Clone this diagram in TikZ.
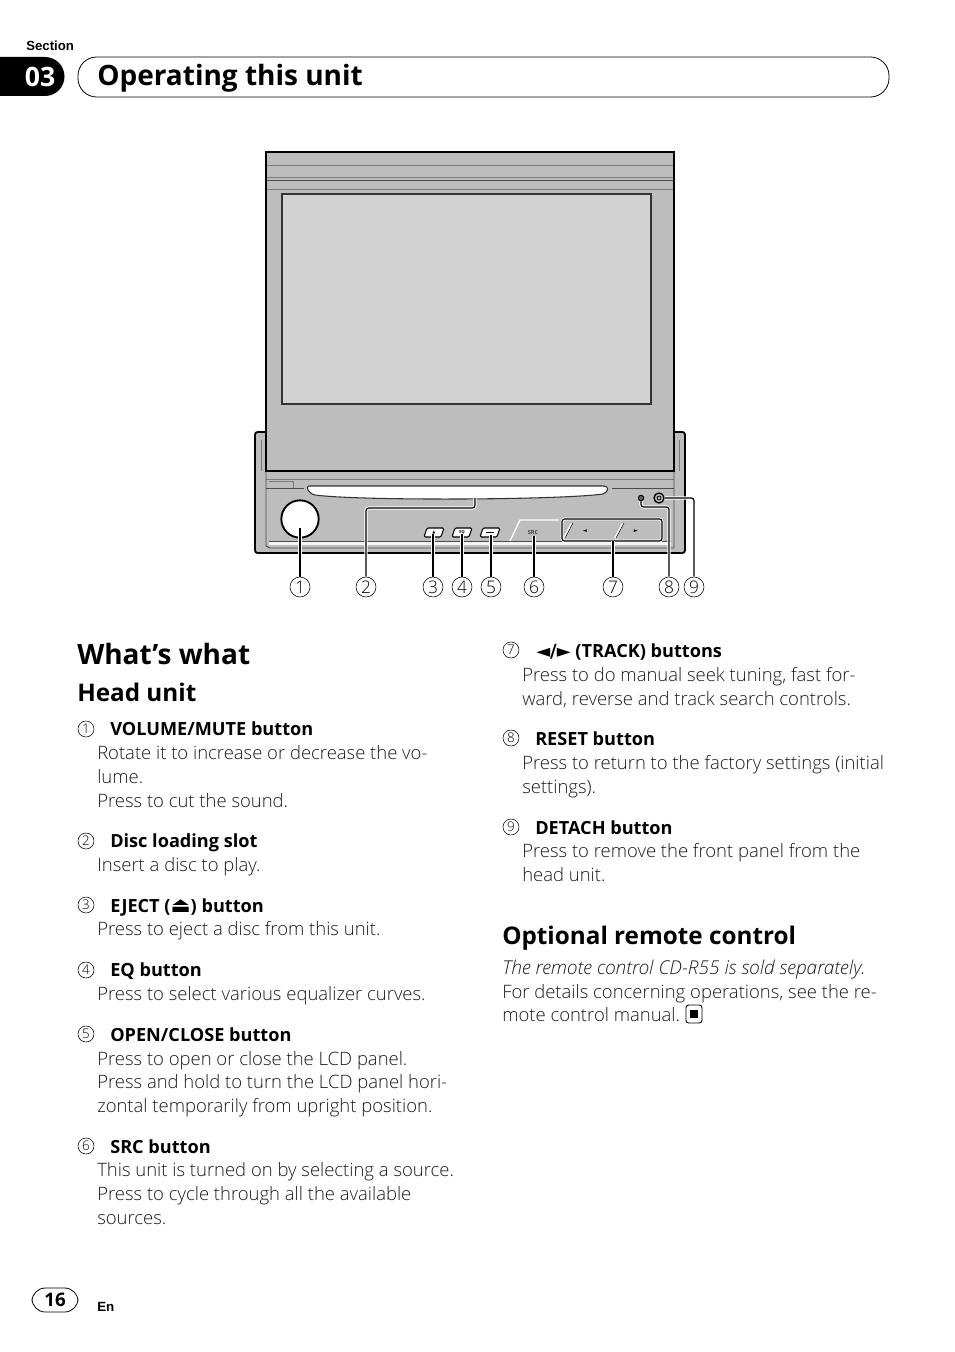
\documentclass[tikz,border=0pt]{standalone}
\usepackage{fontspec}
\setmainfont{Open Sans}
\newfontfamily\lightfont{Open Sans Light}
\newfontfamily\symfont{DejaVu Sans}
\newfontfamily\headfont{Liberation Sans}
\usetikzlibrary{positioning}
\definecolor{panelgray}{HTML}{BDBDBD}
\definecolor{screengray}{HTML}{D3D3D3}
\definecolor{linegray}{HTML}{7A7A7A}
\definecolor{bodyink}{HTML}{1A1A1A}
\tikzset{
  bodyline/.style={anchor=base west,inner sep=0pt,text=bodyink,font=\lightfont\fontsize{13.85pt}{16pt}\selectfont},
  itemhead/.style={anchor=base west,inner sep=0pt,font=\fontsize{13.6pt}{16pt}\selectfont\bfseries},
  subtitle/.style={anchor=base west,inner sep=0pt,font=\fontsize{18.2pt}{20pt}\selectfont\bfseries},
  itemnum/.style={circle,draw,line width=0.4pt,inner sep=0pt,minimum size=12pt,font=\lightfont\fontsize{10pt}{10pt}\selectfont},
  callout/.style={circle,draw,line width=0.4pt,inner sep=0pt,minimum size=15pt,fill=white,font=\lightfont\fontsize{13pt}{14pt}\selectfont},
  leader/.style={line width=0.9pt,rounded corners=2pt,preaction={draw=white,line width=2.4pt}},
  button/.style={draw=black,fill=white,line width=0.8pt,rounded corners=1pt}
}
\begin{document}
\begin{tikzpicture}[x=0.75pt,y=-0.75pt]
\useasboundingbox (0,0) rectangle (954,1352);
% page header
\node[anchor=base west,inner sep=0pt,font=\headfont\fontsize{9.9pt}{11pt}\selectfont\bfseries] (section) at (26,51) {Section};
\fill[black] (0,57) -- (45,57) arc (-90:90:19.5) -- (0,96) -- cycle;
\node[text=white,inner sep=0pt,font=\fontsize{20pt}{22pt}\selectfont\bfseries] (tabnum) at (40,77) {03};
\draw[line width=0.6pt,rounded corners=14pt] (78,57) rectangle (889,97);
\node[anchor=base west,inner sep=0pt,font=\fontsize{21pt}{24pt}\selectfont\bfseries] (pagetitle) at (97,86) {Operating this unit};
% chassis
\draw[line width=1.4pt,fill=panelgray,rounded corners=2pt] (255,432) rectangle (685,553);
\draw[linegray,line width=0.4pt] (261,440) -- (261,471) (679,440) -- (679,471);
\draw[linegray,line width=0.5pt] (266,479) -- (674,479);
\draw[linegray,line width=0.4pt] (269,481) -- (293,481) -- (293,488);
\draw[black!70,line width=0.7pt] (266,471) -- (266,546) -- (270,548) -- (674,548) -- (674,471);
\draw[black!70,line width=0.7pt] (266,488) -- (304,488);
\draw[black!70,line width=0.7pt] (612,488) -- (674,488);
\fill[white!85!panelgray] (269,541) rectangle (671,545);
\draw[black!70,line width=0.5pt] (269,541) -- (671,541);
% disc slot
\draw[fill=white,line width=0.8pt,draw=black!80] (309,486) -- (604,486) .. controls (609,486) and (609,492) .. (603,494) .. controls (560,500) and (360,501) .. (315,495) .. controls (307,493) and (306,486) .. (309,486) -- cycle;
\coordinate (slotpt) at (475,498);
% volume knob
\node[circle,draw,fill=white,line width=1.4pt,minimum size=28pt,inner sep=0pt] (knob) at (300,519) {};
\coordinate (knobpt) at (300,528);
% small buttons
\draw[button] (427,528) -- (444,528) -- (441,537) -- (424,537) -- cycle;
\draw[button] (455,528) -- (472,528) -- (469,537) -- (452,537) -- cycle;
\draw[button] (483,528) -- (500,528) -- (497,537) -- (480,537) -- cycle;
\node[inner sep=0pt,font=\symfont\fontsize{3pt}{3pt}\selectfont] (ejectbtn) at (434,532) {▲};
\node[inner sep=0pt,font=\fontsize{3pt}{3pt}\selectfont\bfseries] (eqbtn) at (462,532) {EQ};
\draw[line width=0.5pt] (486,532.5) -- (494,532.5);
\coordinate (ejectpt) at (433,534);
\coordinate (eqpt) at (462,534);
\coordinate (openpt) at (491,535);
% source and track keys
\draw[white,line width=1pt] (510,541) -- (520,520) -- (559,520);
\node[inner sep=0pt,text=black!75,font=\fontsize{4.2pt}{5pt}\selectfont\bfseries] (srctext) at (533,532) {SRC};
\coordinate (srcpt) at (534,536);
\draw[line width=0.9pt,preaction={draw=white,line width=2.2pt},rounded corners=2pt] (562,519) rectangle (662,541);
\draw[white,line width=1.4pt] (564,538) -- (572,523) (615,538) -- (623,523);
\draw[line width=0.4pt] (565,538) -- (573,523) (616,538) -- (624,523);
\node[inner sep=0pt,font=\symfont\fontsize{4pt}{4pt}\selectfont] (prevkey) at (585,531) {◄};
\node[inner sep=0pt,font=\symfont\fontsize{4pt}{4pt}\selectfont] (nextkey) at (636,531) {►};
\coordinate (trackpt) at (613,541);
% reset and detach
\node[circle,draw,fill=black!60,line width=0.8pt,minimum size=4pt,inner sep=0pt] (reset) at (641,498) {};
\node[circle,draw,fill=panelgray,line width=1pt,minimum size=7.5pt,inner sep=0pt] (detach) at (659,498) {};
\node[circle,draw,line width=0.6pt,minimum size=3pt,inner sep=0pt] (detachin) at (659,498) {};
% fold-up panel
\draw[fill=panelgray,line width=1.4pt] (266,152) rectangle (674,471);
\draw[linegray,line width=0.7pt] (267,165) -- (673,165) (267,177) -- (673,177) (267,189) -- (673,189);
\draw[black!70,line width=0.7pt] (267,180) -- (673,180);
\draw[fill=screengray,line width=0.9pt,draw=black!80] (282,194) rectangle (651,404);
% callouts
\foreach \n/\x in {1/300,2/366,3/433,4/462,5/491,6/534,7/613,8/669,9/694}
  \node[callout] (c\n) at (\x,587) {\n};
\coordinate (slotbend) at (366,508);
\coordinate (slotbendb) at (475,508);
\coordinate (resetbend) at (669,507);
\coordinate (resetbendb) at (641,507);
\coordinate (detachbend) at (694,498);
\draw[leader] (c1) -- (knobpt);
\draw[leader] (c2) -- (slotbend) -- (slotbendb) -- (slotpt);
\draw[leader] (c3) -- (ejectpt);
\draw[leader] (c4) -- (eqpt);
\draw[leader] (c5) -- (openpt);
\draw[leader] (c6) -- (srcpt);
\draw[leader] (c7) -- (trackpt);
\draw[leader] (c8) -- (resetbend) -- (resetbendb) -- (reset);
\draw[leader] (c9) -- (detachbend) -- (detach);
% left column
\node[anchor=base west,inner sep=0pt,font=\fontsize{21pt}{24pt}\selectfont\bfseries] (whatswhat) at (77,664) {What’s what};
\node[subtitle] (headunit) at (77,701) {Head unit};
\node[itemnum] (n1) at (86,729) {1};
\node[itemhead] (h1) at (110,735) {VOLUME/MUTE button};
\node[bodyline] (l1a) at (97,759) {Rotate it to increase or decrease the vo-};
\node[bodyline] (l1b) at (97,783) {lume.};
\node[bodyline] (l1c) at (97,807) {Press to cut the sound.};
\node[itemnum] (n2) at (86,841) {2};
\node[itemhead] (h2) at (110,847) {Disc loading slot};
\node[bodyline] (l2a) at (97,871) {Insert a disc to play.};
\node[itemnum] (n3) at (86,905) {3};
\node[itemhead] (h3) at (110,912) {EJECT ({\symfont\fontsize{16pt}{16pt}\selectfont ⏏}) button};
\node[bodyline] (l3a) at (97,935) {Press to eject a disc from this unit.};
\node[itemnum] (n4) at (86,970) {4};
\node[itemhead] (h4) at (110,976) {EQ button};
\node[bodyline] (l4a) at (97,1000) {Press to select various equalizer curves.};
\node[itemnum] (n5) at (86,1034) {5};
\node[itemhead] (h5) at (110,1041) {OPEN/CLOSE button};
\node[bodyline] (l5a) at (97,1065) {Press to open or close the LCD panel.};
\node[bodyline] (l5b) at (97,1088) {Press and hold to turn the LCD panel hori-};
\node[bodyline] (l5c) at (97,1112) {zontal temporarily from upright position.};
\node[itemnum] (n6) at (86,1146) {6};
\node[itemhead] (h6) at (110,1153) {SRC button};
\node[bodyline] (l6a) at (97,1176) {This unit is turned on by selecting a source.};
\node[bodyline] (l6b) at (97,1200) {Press to cycle through all the available};
\node[bodyline] (l6c) at (97,1224) {sources.};
% right column
\node[itemnum] (n7) at (511,650) {7};
\node[itemhead] (h7) at (536,657) {{\symfont ◄/►} (TRACK) buttons};
\node[bodyline] (l7a) at (522,681) {Press to do manual seek tuning, fast for-};
\node[bodyline] (l7b) at (522,705) {ward, reverse and track search controls.};
\node[itemnum] (n8) at (511,738) {8};
\node[itemhead] (h8) at (535,745) {RESET button};
\node[bodyline] (l8a) at (522,769) {Press to return to the factory settings (initial};
\node[bodyline] (l8b) at (522,793) {settings).};
\node[itemnum] (n9) at (511,827) {9};
\node[itemhead] (h9) at (535,834) {DETACH button};
\node[bodyline] (l9a) at (522,857) {Press to remove the front panel from the};
\node[bodyline] (l9b) at (522,881) {head unit.};
\node[subtitle] (remote) at (502,944) {Optional remote control};
\node[bodyline,font=\lightfont\fontsize{14.3pt}{16pt}\selectfont\itshape] (r1) at (502,974) {The remote control CD-R55 is sold separately.};
\node[bodyline] (r2) at (502,998) {For details concerning operations, see the re-};
\node[bodyline] (r3) at (502,1021) {mote control manual.};
\draw[line width=0.7pt,rounded corners=2pt] (686,1005) rectangle (702,1023);
\fill (690,1010) rectangle (698,1018);
% page footer
\draw[line width=0.6pt,rounded corners=10pt] (32,1288) rectangle (78,1312);
\node[inner sep=0pt,font=\fontsize{14pt}{16pt}\selectfont\bfseries] (pagenum) at (55,1300) {16};
\node[anchor=base west,inner sep=0pt,font=\headfont\fontsize{10pt}{11pt}\selectfont\bfseries] (lang) at (97,1311) {En};
\end{tikzpicture}
\end{document}
